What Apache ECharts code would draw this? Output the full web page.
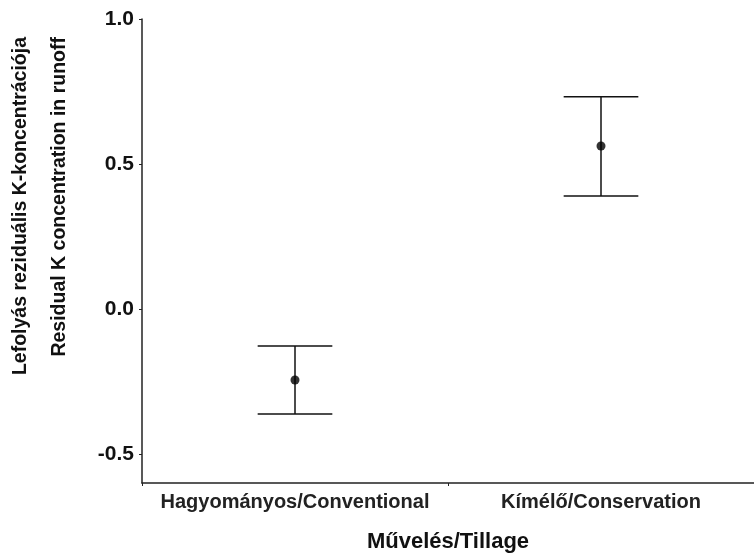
<!DOCTYPE html>
<html>
<head>
<meta charset="utf-8">
<script src="https://cdn.jsdelivr.net/npm/echarts@6/dist/echarts.min.js"></script>
<style>
  html, body { margin: 0; padding: 0; background: #fff; }
  #chart { width: 754px; height: 558px; }
</style>
</head>
<body>
<div id="chart"></div>
<script>
const categories = ['Hagyományos/Conventional', 'Kímélő/Conservation']
const means = [-0.245, 0.562]
const upper = [-0.128, 0.732]
const lower = [-0.362, 0.39]
const yTicks = [-0.5, 0, 0.5, 1.0]
const yTitleLines = ['Lefolyás reziduális K-koncentrációja', 'Residual K concentration in runoff']
const xTitle = 'Művelés/Tillage'

const FONT = 'Liberation Sans, Arial, sans-serif'

const chart = echarts.init(document.getElementById('chart'))

function renderErrorBar(params, api) {
  const idx = api.value(0)
  const top = api.coord([idx, api.value(1)])
  const bottom = api.coord([idx, api.value(2)])
  const half = api.size([1, 0])[0] * 0.122
  const style = { stroke: '#111', lineWidth: 1.5 }
  return {
    type: 'group',
    children: [
      { type: 'line', shape: { x1: top[0], y1: top[1], x2: bottom[0], y2: bottom[1] }, style },
      { type: 'line', shape: { x1: top[0] - half, y1: top[1], x2: top[0] + half, y2: top[1] }, style },
      { type: 'line', shape: { x1: bottom[0] - half, y1: bottom[1], x2: bottom[0] + half, y2: bottom[1] }, style }
    ]
  }
}

chart.setOption({
  animation: false,
  grid: { left: 142, top: 19, width: 620, height: 464 },
  xAxis: {
    type: 'category',
    data: categories,
    axisLine: { onZero: false, lineStyle: { color: '#222', width: 1.5 } },
    axisTick: { show: true, length: 3, lineStyle: { color: '#222' } },
    axisLabel: { interval: 0, margin: 9, color: '#222', fontFamily: FONT, fontWeight: 'bold', fontSize: 20 },
    name: xTitle,
    nameLocation: 'middle',
    nameGap: 48,
    nameTextStyle: { color: '#111', fontFamily: FONT, fontWeight: 'bold', fontSize: 22 }
  },
  yAxis: {
    type: 'value',
    min: -0.6,
    max: 1.0,
    splitLine: { show: false },
    axisLine: { show: true, lineStyle: { color: '#222', width: 1.5 } },
    axisTick: { show: true, length: 3, customValues: yTicks, lineStyle: { color: '#222' } },
    axisLabel: {
      margin: 8,
      customValues: yTicks,
      formatter: (v) => v.toFixed(1),
      color: '#111',
      fontFamily: FONT,
      fontWeight: 'bold',
      fontSize: 21
    }
  },
  graphic: yTitleLines.map((line, i) => ({
    type: 'text',
    x: i === 0 ? 21 : 60,
    y: 37,
    rotation: Math.PI / 2,
    style: {
      text: line,
      textAlign: 'right',
      textVerticalAlign: 'middle',
      fill: '#111',
      font: 'bold 19.5px ' + FONT
    }
  })),
  series: [
    {
      type: 'custom',
      renderItem: renderErrorBar,
      data: categories.map((_, i) => [i, upper[i], lower[i]]),
      encode: { x: 0, y: [1, 2] },
      z: 2
    },
    {
      type: 'scatter',
      data: means.map((m, i) => [i, m]),
      symbol: 'circle',
      symbolSize: 9,
      itemStyle: { color: '#000' },
      z: 3
    }
  ]
})
</script>
</body>
</html>
